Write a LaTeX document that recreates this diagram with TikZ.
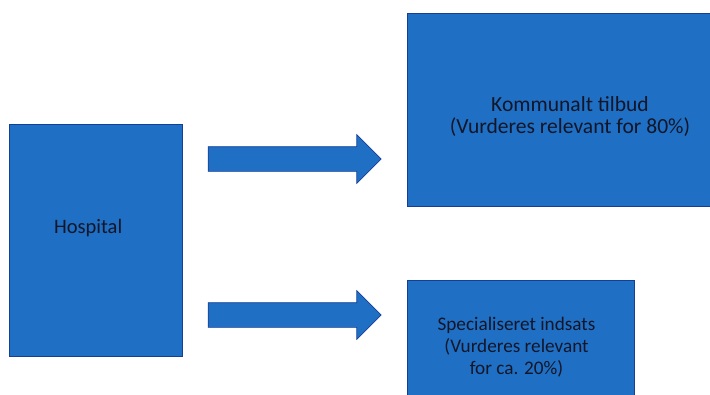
\documentclass[tikz,border=0pt]{standalone}
\usepackage{fontspec}
\setmainfont{Carlito}
\usetikzlibrary{shapes.arrows, positioning}
\definecolor{boxblue}{RGB}{31,112,196}
\definecolor{edgeblue}{RGB}{22,62,150}
\definecolor{textdark}{RGB}{18,22,40}

\begin{document}
\begin{tikzpicture}[x=0.03cm, y=-0.03cm, text=textdark,
    block/.style={rectangle, draw=edgeblue, fill=boxblue, line width=0.6pt, align=center, inner sep=0pt},
    fatarrow/.style={single arrow, draw=edgeblue, fill=boxblue, line width=0.6pt, minimum width=1.44cm, minimum height=5.19cm, single arrow head extend=0.36cm, inner xsep=0pt, inner ysep=0.36cm}
]
\useasboundingbox (0,0) rectangle (710,394);
\node[block, minimum width=5.19cm, minimum height=6.96cm,
    label={[font=\fontsize{17.5}{20}\selectfont, xshift=-0.22cm, yshift=0.36cm]center:Hospital}] (hosp) at (95.5,240) {};
\node[block, minimum width=9.78cm, minimum height=5.79cm,
    label={[align=center, font=\fontsize{18.4}{18.7}\selectfont, yshift=-0.22cm]center:Kommunalt tilbud\\(Vurderes relevant for 80\%)}] (komm) at (570,109.5) {};
\node[block, minimum width=6.81cm, minimum height=4.08cm,
    label={[align=center, font=\fontsize{16.4}{18.5}\selectfont, xshift=-0.12cm, yshift=0.03cm]center:Specialiseret indsats\\(Vurderes relevant\\for ca. 20\%)}] (spec) at (520.5,348) {};

\node[fatarrow] (toptil) at (288.5,159) {};
\node[fatarrow] (bundtil) at (288.5,315) {};
\end{tikzpicture}
\end{document}
